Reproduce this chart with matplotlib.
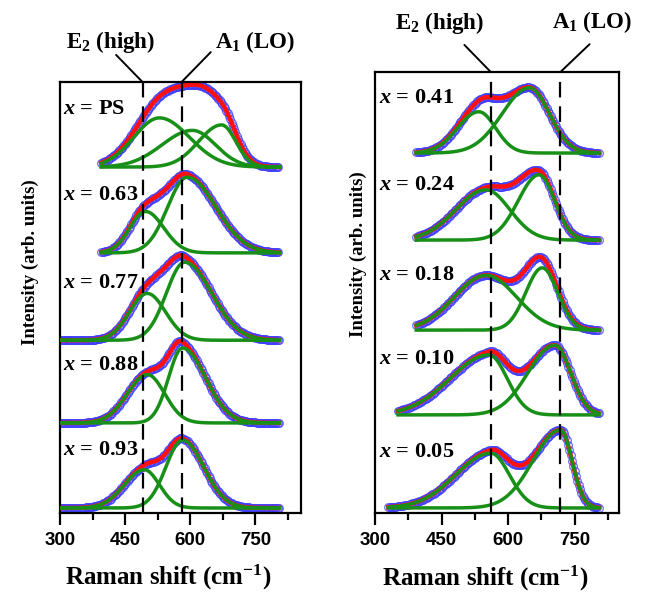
import numpy as np
import matplotlib.pyplot as plt

plt.rcParams['font.family'] = 'Liberation Serif'
plt.rcParams['mathtext.fontset'] = 'custom'
plt.rcParams['mathtext.rm'] = 'Liberation Serif:bold'
plt.rcParams['mathtext.it'] = 'Liberation Serif:italic:bold'
plt.rcParams['mathtext.bf'] = 'Liberation Serif:bold'

# left panel, spectra from bottom to top
left_labels = ['0.93', '0.88', '0.77', '0.63', 'PS']
left_offsets = [0.0, 1.09, 2.15, 3.27, 4.37]
left_start = [300, 300, 300, 395, 395]
# fitted peaks: (centre, height, left width, right width)
left_peaks = [
    [(494, 0.49, 46, 35), (582, 0.87, 38, 49)],
    [(501, 0.62, 46, 40), (582, 0.96, 32, 53)],
    [(501, 0.60, 41, 42), (587, 1.00, 42, 62)],
    [(497, 0.53, 36, 42), (593, 0.97, 45, 66)],
    [(529, 0.63, 59, 69), (605, 0.47, 70, 53), (672, 0.54, 53, 33)],
]
left_modes = [490, 580]

# right panel
right_labels = ['0.05', '0.10', '0.18', '0.24', '0.41']
right_offsets = [0.0, 1.24, 2.37, 3.57, 4.73]
right_start = [330, 352, 393, 393, 393]
right_peaks = [
    [(561, 0.73, 79, 42), (718, 1.04, 62, 26)],
    [(557, 0.80, 88, 41), (705, 0.93, 60, 36)],
    [(550, 0.73, 71, 69), (677, 0.83, 37, 35)],
    [(550, 0.67, 68, 54), (670, 0.87, 47, 35)],
    [(534, 0.55, 48, 38), (648, 0.87, 61, 45)],
]
right_modes = [561, 718]

data_end = 805


def peak(x, c, h, wl, wr):
    w = np.where(x < c, wl, wr)
    return h * np.exp(-(x - c) ** 2 / (2.0 * w ** 2))


def draw_panel(ax, labels, offsets, starts, peaks, modes, ylim, xlim):
    for lab, off, x0, pk in zip(labels, offsets, starts, peaks):
        x = np.arange(x0, data_end + 1, 1.0)
        comps = [peak(x, *p) for p in pk]
        total = np.sum(comps, axis=0)
        xs = x[::3]
        ax.plot(xs, total[::3] + off, 'o', ms=5.5, mfc='none', mec='#3c3cff',
                mew=0.9, alpha=0.75, zorder=1)
        ax.plot(x, total + off, color='#ff1010', lw=3.2, zorder=2)
        for c in comps:
            ax.plot(x, c + off, color='#189018', lw=2.5, zorder=3)
        ax.text(xlim[0] + 8, off + 0.74, '$x$ = ' + lab, fontsize=16,
                fontweight='bold', ha='left', va='center', zorder=5)
    for m in modes:
        ax.axvline(m, color='black', lw=1.6, dashes=(7, 4), zorder=6)
    ax.set_xlim(*xlim)
    ax.set_ylim(*ylim)
    ax.set_yticks([])
    ax.set_xticks([300, 450, 600, 750])
    ax.set_xticks([375, 525, 675, 825], minor=True)
    ax.tick_params(axis='x', which='major', direction='out', length=8.5,
                   width=1.6, pad=5)
    ax.tick_params(axis='x', which='minor', direction='out', length=5,
                   width=1.6)
    for t in ax.get_xticklabels():
        t.set_fontfamily('Liberation Sans')
        t.set_fontweight('bold')
        t.set_fontsize(13.5)
    for s in ax.spines.values():
        s.set_linewidth(1.6)


def mode_label(ax, xpos, text, line_off, text_off):
    ax.annotate('', xy=(xpos, 1.0), xycoords=('data', 'axes fraction'),
                xytext=line_off, textcoords='offset points',
                arrowprops=dict(arrowstyle='-', lw=1.4, shrinkA=0, shrinkB=0))
    ax.annotate(text, xy=(xpos, 1.0), xycoords=('data', 'axes fraction'),
                xytext=text_off, textcoords='offset points', ha='center',
                va='center', fontsize=16.5, fontweight='bold',
                annotation_clip=False)


fig = plt.figure(figsize=(6.48, 5.96), dpi=100)
ax1 = fig.add_axes([0.0926, 0.1393, 0.3719, 0.7231])
ax2 = fig.add_axes([0.5787, 0.1393, 0.3765, 0.7399])

draw_panel(ax1, left_labels, left_offsets, left_start, left_peaks,
           left_modes, (-0.064, 5.46), (300, 855))
draw_panel(ax2, right_labels, right_offsets, right_start, right_peaks,
           right_modes, (-0.067, 5.81), (300, 850))

mode_label(ax1, left_modes[0], 'E$_2$ (high)', (-19, 19.5), (-23, 29))
mode_label(ax1, left_modes[1], 'A$_1$ (LO)', (21, 21.5), (53, 29))
mode_label(ax2, right_modes[0], 'E$_2$ (high)', (-19, 19.5), (-37, 35))
mode_label(ax2, right_modes[1], 'A$_1$ (LO)', (21, 20), (23, 36))

fig.text(30 / 648, 1 - 262 / 596, 'Intensity (arb. units)', rotation=90,
         ha='center', va='center', fontsize=13.5, fontweight='bold')
fig.text(358 / 648, 1 - 254 / 596, 'Intensity (arb. units)', rotation=90,
         ha='center', va='center', fontsize=13.5, fontweight='bold')
fig.text(168 / 648, 1 - 577 / 596, 'Raman shift (cm$^{-1}$)',
         ha='center', va='center', fontsize=18, fontweight='bold')
fig.text(485 / 648, 1 - 578 / 596, 'Raman shift (cm$^{-1}$)',
         ha='center', va='center', fontsize=18, fontweight='bold')

fig.savefig('out.png', dpi=100)
